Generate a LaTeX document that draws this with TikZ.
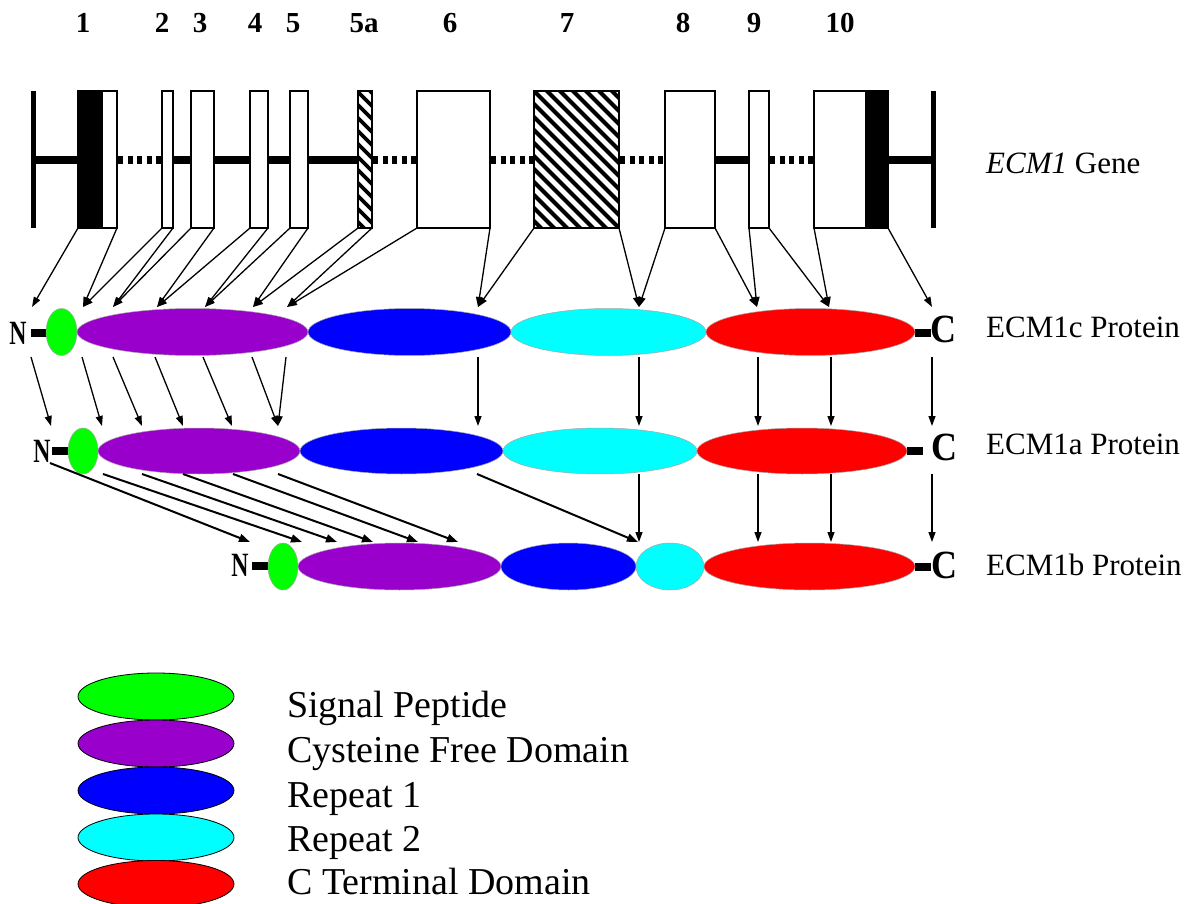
\documentclass[tikz,border=0pt]{standalone}
\usepackage{fontspec}
\setmainfont{Liberation Serif}
\usetikzlibrary{shapes.geometric,arrows.meta}
\definecolor{spc}{RGB}{0,255,0}
\definecolor{cfc}{RGB}{153,0,204}
\definecolor{raa}{RGB}{0,0,255}
\definecolor{rbb}{RGB}{0,255,255}
\definecolor{ctc}{RGB}{255,0,0}
\begin{document}
\begin{tikzpicture}[x=1pt,y=-1pt,
  exon/.style={draw, line width=1.3pt, fill=white, minimum height=137pt, inner sep=0pt, outer sep=0pt},
  dom/.style={ellipse, inner sep=0pt, outer sep=0pt, draw=black!35, line width=0.5pt},
  legell/.style={ellipse, inner sep=0pt, draw=black, line width=0.8pt, minimum width=156pt, minimum height=47pt},
  termbar/.style={fill=black, inner sep=0pt, outer sep=0pt, minimum height=8pt, minimum width=16pt},
  arr/.style={line width=1.3pt, -{Triangle[length=10pt,width=7pt]}},
  arrb/.style={line width=2pt, -{Triangle[length=11pt,width=8pt]}},
  num/.style={font=\fontsize{29}{32}\selectfont\bfseries, anchor=base, inner sep=0pt},
  lab/.style={font=\fontsize{31}{36}\selectfont, anchor=base west, inner sep=0pt},
  legt/.style={font=\fontsize{38}{44}\selectfont, anchor=base west, inner sep=0pt},
  nterm/.style={font=\fontsize{34}{40}\selectfont\bfseries, inner sep=0pt},
  cterm/.style={font=\fontsize{40}{44}\selectfont\bfseries, inner sep=0pt},
  solidline/.style={line width=8pt},
  dotline/.style={line width=8pt, dash pattern=on 5pt off 4.5pt},
]
\useasboundingbox (0,0) rectangle (1194,904);

% ---------- gene backbone ----------
\draw[line width=5pt] (33.5,91) -- (33.5,228);
\draw[line width=5pt] (933,91) -- (933,228);
\draw[solidline] (33,160) -- (78,160);
\draw[solidline] (173,160) -- (191,160);
\draw[solidline] (214,160) -- (250,160);
\draw[solidline] (268,160) -- (290,160);
\draw[solidline] (308,160) -- (358,160);
\draw[solidline] (715,160) -- (749,160);
\draw[solidline] (888,160) -- (933,160);
\draw[dotline] (118,160) -- (162,160);
\draw[dotline] (373,160) -- (417,160);
\draw[dotline] (491,160) -- (534,160);
\draw[dotline] (620,160) -- (665,160);
\draw[dotline] (770,160) -- (814,160);

% ---------- exons ----------
\node[exon, minimum width=24pt, fill=black] (ex1b) at (90,159.5) {};
\node[exon, minimum width=15pt] (ex1w) at (109.5,159.5) {};
\node[exon, minimum width=11pt] (ex2) at (167.5,159.5) {};
\node[exon, minimum width=23pt] (ex3) at (202.5,159.5) {};
\node[exon, minimum width=18pt] (ex4) at (259,159.5) {};
\node[exon, minimum width=18pt] (ex5) at (299,159.5) {};
\node[exon, minimum width=14pt] (ex5a) at (365,159.5) {};
\node[exon, minimum width=73pt] (ex6) at (453.5,159.5) {};
\node[exon, minimum width=85pt] (ex7) at (576.5,159.5) {};
\node[exon, minimum width=50pt] (ex8) at (690,159.5) {};
\node[exon, minimum width=20pt] (ex9) at (759,159.5) {};
\node[exon, minimum width=52pt] (ex10w) at (840,159.5) {};
\node[exon, minimum width=22pt, fill=black] (ex10b) at (877,159.5) {};

% hatching
\begin{scope}
  \clip (ex5a.south west) rectangle (ex5a.north east);
  \foreach \t in {208,221,...,380} \draw[line width=3.8pt] (\t,85) -- ++(150,150);
\end{scope}
\draw[line width=1.3pt] (ex5a.south west) rectangle (ex5a.north east);
\begin{scope}
  \clip (ex7.south west) rectangle (ex7.north east);
  \foreach \t in {385,398,...,630} \draw[line width=4pt] (\t,85) -- ++(150,150);
\end{scope}
\draw[line width=1.3pt] (ex7.south west) rectangle (ex7.north east);

% exon numbers
\node[num] (n1) at (83,33) {1};
\node[num] (n2) at (162,33) {2};
\node[num] (n3) at (200,33) {3};
\node[num] (n4) at (255,33) {4};
\node[num] (n5) at (293,33) {5};
\node[num] (n5a) at (364,33) {5a};
\node[num] (n6) at (450,33) {6};
\node[num] (n7) at (567,33) {7};
\node[num] (n8) at (683,33) {8};
\node[num] (n9) at (754,33) {9};
\node[num] (n10) at (840,33) {10};

\node[lab] (genelab) at (986,174) {\textit{ECM1} Gene};

% ---------- ECM1c protein ----------
\node[termbar] (cNbar) at (39,332.5) {};
\node[termbar] (cCbar) at (923,332.5) {};
\node[dom, fill=spc, minimum width=31pt, minimum height=47pt] (cSP) at (61.5,332) {};
\node[dom, fill=cfc, minimum width=231pt, minimum height=47pt] (cCF) at (192.5,332) {};
\node[dom, fill=raa, minimum width=203pt, minimum height=47pt] (cR1) at (409.5,332) {};
\node[dom, fill=rbb, minimum width=195pt, minimum height=47pt] (cR2) at (608.5,332) {};
\node[dom, fill=ctc, minimum width=209pt, minimum height=47pt] (cCT) at (810.5,332) {};
\node[nterm] (cN) at (18,333) {\scalebox{0.7}[1]{N}};
\node[cterm] (cC) at (943.5,329) {\scalebox{0.9}[1]{C}};
\node[lab] (clab) at (986,337) {ECM1c Protein};

% ---------- ECM1a protein ----------
\node[termbar] (aNbar) at (60,451) {};
\node[termbar] (aCbar) at (915,450.5) {};
\node[dom, fill=spc, minimum width=30pt, minimum height=46pt] (aSP) at (83,451) {};
\node[dom, fill=cfc, minimum width=202pt, minimum height=46pt] (aCF) at (199,451) {};
\node[dom, fill=raa, minimum width=203pt, minimum height=46pt] (aR1) at (401.5,451) {};
\node[dom, fill=rbb, minimum width=194pt, minimum height=46pt] (aR2) at (600,451) {};
\node[dom, fill=ctc, minimum width=210pt, minimum height=46pt] (aCT) at (802,451) {};
\node[nterm] (aN) at (42,451) {\scalebox{0.7}[1]{N}};
\node[cterm] (aC) at (944,447) {\scalebox{0.9}[1]{C}};
\node[lab] (alab) at (986,454) {ECM1a Protein};

% ---------- ECM1b protein ----------
\node[termbar] (bNbar) at (260,566) {};
\node[termbar] (bCbar) at (923,566.5) {};
\node[dom, fill=spc, minimum width=30pt, minimum height=47pt] (bSP) at (283,566.5) {};
\node[dom, fill=cfc, minimum width=203pt, minimum height=47pt] (bCF) at (399.5,566.5) {};
\node[dom, fill=raa, minimum width=135pt, minimum height=47pt] (bR1) at (568.5,566.5) {};
\node[dom, fill=rbb, minimum width=68pt, minimum height=47pt] (bR2) at (670,566.5) {};
\node[dom, fill=ctc, minimum width=211pt, minimum height=47pt] (bCT) at (809.5,566.5) {};
\node[nterm] (bN) at (240,565) {\scalebox{0.7}[1]{N}};
\node[cterm] (bC) at (944,565) {\scalebox{0.9}[1]{C}};
\node[lab] (blab) at (986,575) {ECM1b Protein};

% ---------- arrow end points ----------
\foreach \n/\x in {0/32,1/83,2/113,3/157,4/205,5/253,6/287,7/478,8/639,9/757,10/829,11/932}
  \coordinate (g\n) at (\x,307);
\foreach \n/\x/\y in {0/31/51,1/82/102,2/113/142,3/155/183,4/203/232,5/252/278,6/286/278,7/478/478,8/639/639,9/758/758,10/831/831,11/932/932}
  {\coordinate (cs\n) at (\x,357); \coordinate (ae\n) at (\y,426);}
\foreach \n/\x/\y/\u in {0/50/463/250,1/103/474/302,2/142/474/337,3/183/474/373,4/233/474/418,5/278/474/458,6/477/474/638,7/639/474/639,8/758/474/758,9/831/474/831,10/932/474/932}
  {\coordinate (as\n) at (\x,\y); \coordinate (be\n) at (\u,542);}

% gene -> ECM1c
\draw[arr] (ex1b.south west) -- (g0);
\draw[arr] (ex1w.south east) -- (g1);
\draw[arr] (ex2.south west) -- (g1);
\draw[arr] (ex2.south east) -- (g2);
\draw[arr] (ex3.south west) -- (g2);
\draw[arr] (ex3.south east) -- (g3);
\draw[arr] (ex4.south west) -- (g3);
\draw[arr] (ex4.south east) -- (g4);
\draw[arr] (ex5.south west) -- (g4);
\draw[arr] (ex5.south east) -- (g5);
\draw[arr] (ex5a.south west) -- (g5);
\draw[arr] (ex5a.south east) -- (g6);
\draw[arr] (ex6.south west) -- (g6);
\draw[arr] (ex6.south east) -- (g7);
\draw[arr] (ex7.south west) -- (g7);
\draw[arr] (ex7.south east) -- (g8);
\draw[arr] (ex8.south west) -- (g8);
\draw[arr] (ex8.south east) -- (g9);
\draw[arr] (ex9.south west) -- (g9);
\draw[arr] (ex9.south east) -- (g10);
\draw[arr] (ex10w.south west) -- (g10);
\draw[arr] (ex10b.south east) -- (g11);

% ECM1c -> ECM1a
\foreach \n in {0,...,11} \draw[arr] (cs\n) -- (ae\n);

% ECM1a -> ECM1b
\foreach \n in {0,...,6} \draw[arrb] (as\n) -- (be\n);
\foreach \n in {7,...,10} \draw[arr] (as\n) -- (be\n);

% ---------- legend ----------
\node[legell, fill=spc] (lSP) at (156,696.5) {};
\node[legell, fill=cfc] (lCF) at (156,743.5) {};
\node[legell, fill=raa] (lR1) at (156,790.5) {};
\node[legell, fill=rbb] (lR2) at (156,837.5) {};
\node[legell, fill=ctc] (lCT) at (156,884) {};
\node[legt] (tSP) at (287,717) {Signal Peptide};
\node[legt] (tCF) at (287,762) {Cysteine Free Domain};
\node[legt] (tR1) at (287,807) {Repeat 1};
\node[legt] (tR2) at (287,851) {Repeat 2};
\node[legt] (tCT) at (287,894) {C Terminal Domain};
\end{tikzpicture}
\end{document}
